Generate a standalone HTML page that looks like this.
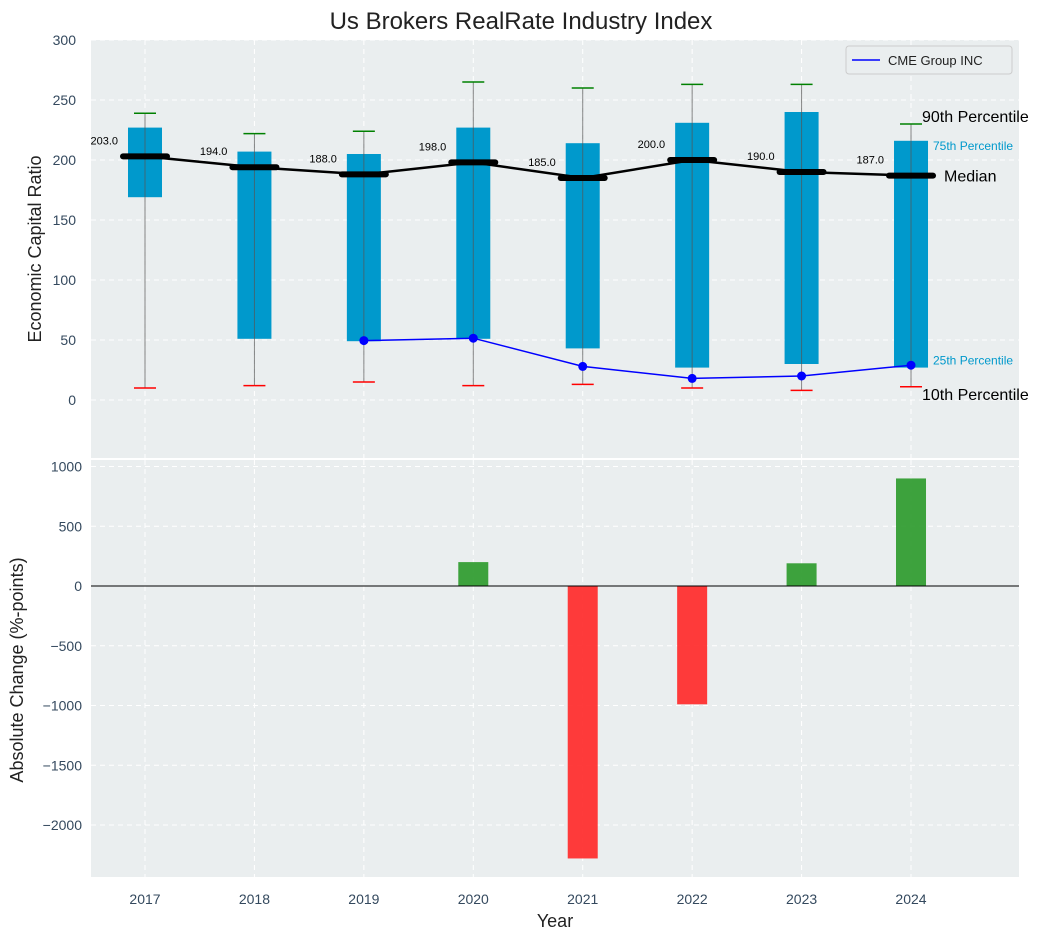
<!DOCTYPE html>
<html><head><meta charset="utf-8"><style>
body{margin:0;background:#fff;font-family:"Liberation Sans",sans-serif}
svg text{font-family:"Liberation Sans",sans-serif}
</style></head><body>
<svg id="c" width="1043" height="940" xmlns="http://www.w3.org/2000/svg"></svg>
<script>
const years=[2017,2018,2019,2020,2021,2022,2023,2024];
const p10=[10,12,15,12,13,10,8,11];
const p25=[169,51,49,51,43,27,30,27];
const median=[203,194,188,198,185,200,190,187];
const p75=[227,207,205,227,214,231,240,216];
const p90=[239,222,224,265,260,263,263,230];
const cmeYears=[2019,2020,2021,2022,2023,2024];
const cme=[49.5,51.5,28,18,20,29];
const change=[0,0,0,200,-2280,-990,190,900];
const topTicks=[0,50,100,150,200,250,300];
const botTicks=[-2000,-1500,-1000,-500,0,500,1000];

const NS="http://www.w3.org/2000/svg";
const svg=document.getElementById('c');
function el(t,a,p){const e=document.createElementNS(NS,t);for(const k in a)e.setAttribute(k,a[k]);(p||svg).appendChild(e);return e;}
const L=91,R=1019;
const x=v=>145+(v-2017)*109.43;
const yT=v=>400-v*1.2;
const yB=v=>586-v*0.1195;

let t=el('text',{x:521,y:29,'font-size':24,'text-anchor':'middle',fill:'#222'});t.textContent='Us Brokers RealRate Industry Index';


let bg=el('rect',{x:L,y:40,width:R-L,height:418,fill:'#eaeeef'});

let bg2=el('rect',{x:L,y:460,width:R-L,height:417,fill:'#eaeeef'});

const gs={stroke:'#fff','stroke-dasharray':'5,4','stroke-width':1};
years.forEach(v=>{el('line',Object.assign({x1:x(v),x2:x(v),y1:40,y2:458},gs));el('line',Object.assign({x1:x(v),x2:x(v),y1:460,y2:877},gs));
 const tl=el('text',{x:x(v),y:904,'font-size':14,'text-anchor':'middle',fill:'#34495e'});tl.textContent=v;
 });
topTicks.forEach(v=>{el('line',Object.assign({x1:L,x2:R,y1:yT(v),y2:yT(v)},gs));
 const tl=el('text',{x:76,y:yT(v)+5,'font-size':14,'text-anchor':'end',fill:'#34495e'});tl.textContent=v;
 });
botTicks.forEach(v=>{el('line',Object.assign({x1:L,x2:R,y1:yB(v),y2:yB(v)},gs));
 const tl=el('text',{x:82,y:yB(v)+5,'font-size':14,'text-anchor':'end',fill:'#34495e'});tl.textContent=v<0?'\u2212'+(-v):v;
 });

years.forEach((v,i)=>{
 const cx=x(v);
 const b=el('rect',{x:cx-17,y:yT(p75[i]),width:34,height:yT(p25[i])-yT(p75[i]),fill:'#0099cc'});
 
 el('line',{x1:cx,x2:cx,y1:yT(p90[i]),y2:yT(p10[i]),stroke:'#555','stroke-width':1,opacity:0.7});
 const c1=el('line',{x1:cx-11,x2:cx+11,y1:yT(p90[i]),y2:yT(p90[i]),stroke:'green','stroke-width':1.5});
 
 const c2=el('line',{x1:cx-11,x2:cx+11,y1:yT(p10[i]),y2:yT(p10[i]),stroke:'red','stroke-width':1.5});
 
});
let pts=years.map((v,i)=>x(v)+','+yT(median[i])).join(' ');
let ml=el('polyline',{points:pts,fill:'none',stroke:'#000','stroke-width':2.5});

years.forEach((v,i)=>{
 const m=el('line',{x1:x(v)-22,x2:x(v)+22,y1:yT(median[i]),y2:yT(median[i]),stroke:'#000','stroke-width':6,'stroke-linecap':'round'});
 
 const tl=el('text',{x:x(v)-27,y:yT(median[i])-12,'font-size':11,'text-anchor':'end',fill:'#000'});tl.textContent=median[i].toFixed(1);
 
});
let cl=el('polyline',{points:cmeYears.map((v,i)=>x(v)+','+yT(cme[i])).join(' '),fill:'none',stroke:'blue','stroke-width':1.5});

cmeYears.forEach((v,i)=>{const d=el('circle',{cx:x(v),cy:yT(cme[i]),r:4.5,fill:'blue'});
 });

const ann=[['90th Percentile',922,yT(p90[7])-2,16,'#000'],['75th Percentile',933,yT(p75[7])+9,12,'#0099cc'],['Median',944,yT(median[7])+6,16,'#000'],['25th Percentile',933,yT(p25[7])-3,12,'#0099cc'],['10th Percentile',922,yT(p10[7])+13,16,'#000']];
ann.forEach(a=>{const tl=el('text',{x:a[1],y:a[2],'font-size':a[3],fill:a[4]});tl.textContent=a[0];
 });

const lg=el('g',{});
el('rect',{x:846,y:46,width:166,height:28,rx:3,fill:'#eaeeef',stroke:'#ccc'},lg);
el('line',{x1:852,x2:880,y1:60,y2:60,stroke:'blue','stroke-width':1.5},lg);
t=el('text',{x:888,y:65,'font-size':13,fill:'#222'},lg);t.textContent='CME Group INC';

years.forEach((v,i)=>{if(!change[i])return;
 const y0=yB(Math.max(0,change[i])),y1=yB(Math.min(0,change[i]));
 const b=el('rect',{x:x(v)-15,y:y0,width:30,height:y1-y0,fill:change[i]>0?'#2e9b2e':'#ff2a2a',opacity:0.92});
 });
let zl=el('line',{x1:L,x2:R,y1:yB(0),y2:yB(0),stroke:'#000','stroke-width':1});


t=el('text',{x:0,y:0,'font-size':18,'text-anchor':'middle',fill:'#222',transform:'translate(41,249) rotate(-90)'});t.textContent='Economic Capital Ratio';

t=el('text',{x:0,y:0,'font-size':18,'text-anchor':'middle',fill:'#222',transform:'translate(23,670) rotate(-90)'});t.textContent='Absolute Change (%-points)';

t=el('text',{x:555,y:927,'font-size':18,'text-anchor':'middle',fill:'#222'});t.textContent='Year';

</script>
</body></html>
